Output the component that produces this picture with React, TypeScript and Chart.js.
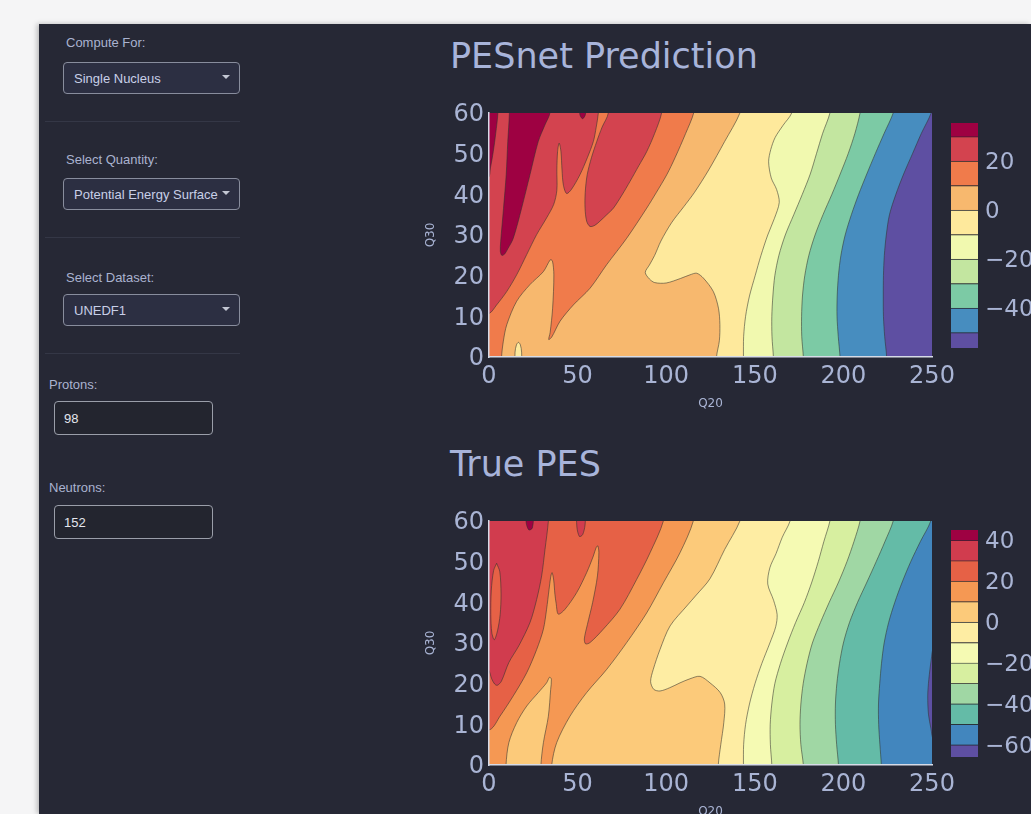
import React, { useEffect, useRef } from 'react';
import { Chart, registerables } from 'chart.js';

Chart.register(...registerables);

type Pt = [number, number];

const FONT = '"DejaVu Sans", Verdana, sans-serif';
const UI_FONT = '"Liberation Sans", Arial, sans-serif';
const TEXT = '#a9b4d4';
const LINE = 'rgba(50,50,45,0.55)';

// ---------- axes ----------
const q20Ticks = [0, 50, 100, 150, 200, 250];
const q30Ticks = [0, 10, 20, 30, 40, 50, 60];
const q20Range: Pt = [0, 250];
const q30Range: Pt = [0, 60];
const frameRegion: Pt[] = [[-12, -6], [262, -6], [262, 66], [-12, 66]];

// ---------- PESnet Prediction (contour regions z >= level, in Q20/Q30 units) ----------
const predZRange: Pt = [-56.3, 35.5];
const predLevels = [-50, -40, -30, -20, -10, 0, 10, 20, 30];
const predColorbarTicks = [-40, -20, 0, 20];
const predColors = ['#5e4fa2', '#478dbf', '#7ccaa5', '#c3e6a0', '#f1f9af', '#fee99c', '#f7b86e', '#f07b4b', '#d3434f', '#9e0142'];

const predAboveM50: Pt[] = [[-12, -6], [224.6, -6], [224.4, 0], [223.3, 5], [222.6, 10], [222.5, 15], [222.6, 20], [223.1, 25], [224.2, 30], [226, 35], [229.6, 40], [234, 45], [239, 50], [244, 55], [249.5, 60], [253, 66], [-12, 66]];
const predAboveM40: Pt[] = [[-12, -6], [198.6, -6], [198.1, 0], [197.1, 5], [196.4, 10], [196.5, 15], [197.2, 20], [198.6, 25], [201, 30], [204.5, 35], [208.6, 40], [213.2, 45], [218, 50], [223, 55], [228.1, 60], [231.5, 66], [-12, 66]];
const predAboveM30: Pt[] = [[-12, -6], [177.8, -6], [177.4, 0], [176.5, 5], [176.4, 10], [176.9, 15], [178.2, 20], [180.5, 25], [184, 30], [188.5, 35], [193.5, 40], [198.2, 45], [202.7, 50], [206.5, 55], [209.4, 60], [211.5, 66], [-12, 66]];
const predAboveM20: Pt[] = [[-12, -6], [160.8, -6], [160.5, 0], [159.7, 5], [159.6, 10], [160.2, 15], [161.3, 20], [163.6, 25], [167.2, 30], [172, 35], [176.8, 40], [181.3, 45], [184.8, 50], [188.3, 55], [192.4, 60], [194.5, 66], [-12, 66]];
const predAboveM10: Pt[] = [[-12, -6], [143.6, -6], [143.6, 0], [143.7, 5], [144.8, 10], [147, 15], [150.2, 20], [153.5, 25], [157.3, 30], [161, 34], [163.8, 38], [162.3, 41.2], [159.3, 44], [157.8, 48], [159, 51], [161.5, 54], [166, 57], [170.8, 60], [173.5, 66], [-12, 66]];
const predAbove0: Pt[] = [[-12, -6], [128.4, -6], [128.4, 0], [130, 4], [130.3, 8], [129.5, 12], [126.6, 16.1], [121, 19.4], [117.2, 20.6], [113.4, 20.2], [108, 19.3], [100, 18.2], [93.5, 18.3], [90.5, 19.2], [88.2, 20.8], [90.5, 22.6], [93.5, 25], [97, 28.5], [103, 33], [110, 37], [116, 40.5], [124, 46], [133, 53], [141.6, 60], [144.5, 66], [-12, 66]];
const predBelow0Blob: Pt[] = [[14.6, -4], [14.7, 1.2], [15.5, 3], [16.6, 3.6], [17.7, 3], [18.4, 1.2], [18.5, -4]];
const predAbove10: Pt[] = [[-12, -6], [7.1, -6], [7.1, 0], [8.1, 3.9], [10, 7.9], [15.6, 13.7], [23.1, 17.8], [30.7, 21], [34.6, 23.9], [35.8, 23.6], [36.6, 20.2], [35.9, 12], [34.5, 6], [33.7, 4.3], [35.4, 4.9], [40.1, 8.8], [47.6, 12.8], [57, 16.9], [66.4, 22.7], [77.7, 29.2], [89, 36.6], [94.5, 40.5], [100.3, 44.8], [105, 49], [111, 55], [115.5, 60], [117.5, 66], [-12, 66]];
const predAbove20Left: Pt[] = [[-12, 10.2], [0, 10.7], [4.3, 12.8], [10, 16.1], [15.6, 20.2], [21.3, 25.2], [26.9, 30.1], [32.5, 34.2], [36.5, 37.5], [38.3, 41], [38.3, 46], [38.7, 50.5], [39.6, 52.6], [40.6, 50.5], [41.2, 46], [42, 42.2], [43.8, 40.2], [46.5, 41.2], [51.3, 44.8], [55.5, 49], [58.9, 53], [60.5, 56.5], [61.7, 60], [62.5, 66], [-12, 66]];
const predAbove20Right: Pt[] = [[66.5, 66], [67.3, 60], [63.8, 56.5], [60.8, 53], [57.8, 49], [55.4, 44.8], [54.3, 40.5], [54.2, 36.6], [55.1, 33.4], [57, 32.1], [59.8, 32.4], [62.6, 33.4], [66.5, 35], [70.2, 36.6], [75, 39.8], [79.6, 43.2], [84.5, 47], [89, 50.5], [93.5, 55], [97.4, 60], [98.5, 66]];
const predAbove30Main: Pt[] = [[11.3, 66], [11.5, 60], [10.6, 53], [9.7, 44.8], [8.2, 36.6], [6.6, 28.4], [6.4, 26], [7.2, 25], [8.8, 25.3], [10.6, 26.6], [13.7, 29.2], [18.4, 36.6], [23.1, 44.8], [27.8, 53], [31.5, 57], [34.4, 60], [35.5, 66]];
const predAbove30Edge: Pt[] = [[-12, 66], [5, 66], [5, 60], [3.8, 55], [2.4, 50.5], [0.8, 46.5], [-0.5, 44], [-12, 42]];
const predAbove30Dot: Pt[] = [[51, 63], [51.3, 59.6], [52.8, 58.6], [54.4, 59.6], [54.8, 63]];

const predRegions = [
  { from: -56.3, path: frameRegion },
  { from: -50, path: predAboveM50 },
  { from: -40, path: predAboveM40 },
  { from: -30, path: predAboveM30 },
  { from: -20, path: predAboveM20 },
  { from: -10, path: predAboveM10 },
  { from: 0, path: predAbove0 },
  { from: -10, path: predBelow0Blob },
  { from: 10, path: predAbove10 },
  { from: 20, path: predAbove20Left },
  { from: 20, path: predAbove20Right },
  { from: 30, path: predAbove30Main },
  { from: 30, path: predAbove30Edge },
  { from: 30, path: predAbove30Dot },
];

// ---------- True PES ----------
const trueZRange: Pt = [-66, 45];
const trueLevels = [-60, -50, -40, -30, -20, -10, 0, 10, 20, 30, 40];
const trueColorbarTicks = [-60, -40, -20, 0, 20, 40];
const trueColors = ['#5e4fa2', '#4286be', '#64bba7', '#a0d7a4', '#d7efa0', '#f5fab3', '#feeda3', '#fcca7a', '#f59853', '#e66146', '#d13c4e', '#9e0142'];

const trueAboveM60: Pt[] = [[-12, -6], [255, -6], [255, 6], [251, 6], [249.4, 9], [248, 12.5], [247.6, 17], [248.2, 21], [249.6, 26], [251, 29], [255, 29], [255, 66], [-12, 66]];
const trueAboveM50: Pt[] = [[-12, -6], [221.6, -6], [221.4, 0], [220.6, 5], [219.9, 10], [219.8, 15], [220.5, 20], [221.5, 25], [223, 30], [225.5, 35], [229, 40], [233.2, 45], [238, 50], [243.5, 55], [249.3, 60], [252, 66], [-12, 66]];
const trueAboveM40: Pt[] = [[-12, -6], [197.4, -6], [197.2, 0], [196.2, 5], [195.5, 10], [195.5, 15], [196.3, 20], [197.8, 25], [200, 30], [203.4, 35], [208, 40], [213.3, 45], [218.5, 50], [223.5, 55], [228.1, 60], [230.5, 66], [-12, 66]];
const trueAboveM30: Pt[] = [[-12, -6], [177.8, -6], [177.4, 0], [176, 5], [175.5, 10], [176, 15], [177.3, 20], [179.5, 25], [182.5, 30], [187, 35], [192, 40], [197.3, 45], [202, 50], [206, 55], [209.4, 60], [211.5, 66], [-12, 66]];
const trueAboveM20: Pt[] = [[-12, -6], [159.8, -6], [159.6, 0], [158.8, 5], [158.7, 10], [159.6, 15], [161.3, 20], [164.5, 25], [168.5, 30], [173, 35], [178, 40], [182.2, 45], [185.8, 50], [189, 55], [192.4, 60], [194.5, 66], [-12, 66]];
const trueAboveM10: Pt[] = [[-12, -6], [143.6, -6], [143.6, 0], [143.7, 5], [144.8, 10], [147, 15], [150.1, 20], [154, 25], [158.5, 30], [161.8, 34], [162.6, 37], [160.6, 40.5], [157.3, 44.5], [158.5, 48.5], [162, 52], [165.5, 56], [169.9, 60], [172.5, 66], [-12, 66]];
const trueAbove0: Pt[] = [[-12, -6], [129.4, -6], [129.4, 0], [130.8, 5], [132.5, 10.4], [133, 15], [130.5, 17.8], [124.7, 20.2], [119.1, 21.8], [113.4, 21.2], [107.8, 20.2], [102, 19], [96.5, 18.2], [93, 18.6], [91.2, 20.5], [92.7, 23.5], [96.5, 28.4], [102.2, 34.2], [111.6, 39.1], [117, 41.8], [124.7, 45.8], [133, 53], [141.6, 60], [144.5, 66], [-12, 66]];
const trueAbove10: Pt[] = [[-12, -6], [9.6, -6], [9.6, 0], [11.2, 5.5], [15.6, 10.4], [21.3, 14.5], [27.8, 17.8], [32.5, 20.2], [34.2, 21.6], [35.2, 21.1], [34.8, 18.6], [33.5, 12], [30.7, 5.5], [29.3, 0], [29.3, -6], [35.4, -6], [35.4, 0], [38.2, 5.5], [45.7, 12], [55.1, 17.8], [66.4, 23.5], [77.7, 30.1], [89, 37.4], [98.4, 44.8], [107.8, 52.2], [115.3, 60], [116.5, 66], [-12, 66]];
const trueAbove20: Pt[] = [[-12, 8.2], [0.6, 8.7], [6.2, 12], [13.7, 17], [21.3, 22.7], [26.9, 28.4], [30.7, 33.4], [32.5, 38.3], [33.9, 43.2], [34.8, 46.2], [35.6, 47.3], [36.5, 45.5], [37.2, 42], [37.9, 39.7], [39.1, 37.1], [42.9, 38.3], [49.5, 42.4], [55.1, 47.3], [58.9, 51.4], [60.4, 53.4], [61.4, 53.9], [62, 52.2], [61.2, 46.5], [58.5, 40], [55.5, 34.5], [53.8, 31], [54.5, 29.8], [57, 30.1], [64.5, 33.4], [73.9, 38.3], [83.3, 45.6], [90.9, 52.2], [98.4, 60], [99.5, 66], [-12, 66]];
const trueAbove30: Pt[] = [[-12, 27], [-0.5, 23.5], [1.5, 21.2], [3.2, 19.9], [4.7, 19.6], [7, 20.6], [11.2, 25.2], [16.8, 29.3], [23.1, 35], [26.9, 40.7], [29.7, 46.5], [31.6, 53], [33.5, 60], [34, 66], [-12, 66]];
const trueBelow30Island: Pt[] = [[4.3, 49.6], [6.1, 47.5], [6.8, 42], [6.3, 37], [4.8, 33], [3, 30.8], [1.6, 32.5], [1, 37], [1.3, 43], [2.6, 47.8], [4.3, 49.6]];
const trueAbove30Dot: Pt[] = [[49.4, 63], [49.6, 58.5], [51, 56.2], [52.8, 56.6], [54.2, 59], [54.5, 63]];
const trueAbove40Dot: Pt[] = [[20.8, 63], [21, 59.5], [22.5, 57.8], [24.5, 58.3], [25.4, 63]];

const trueRegions = [
  { from: -66, path: frameRegion },
  { from: -60, path: trueAboveM60 },
  { from: -50, path: trueAboveM50 },
  { from: -40, path: trueAboveM40 },
  { from: -30, path: trueAboveM30 },
  { from: -20, path: trueAboveM20 },
  { from: -10, path: trueAboveM10 },
  { from: 0, path: trueAbove0 },
  { from: 10, path: trueAbove10 },
  { from: 20, path: trueAbove20 },
  { from: 30, path: trueAbove30 },
  { from: 20, path: trueBelow30Island },
  { from: 30, path: trueAbove30Dot },
  { from: 40, path: trueAbove40Dot },
];

const fmt = (v: number | string) => {
  const n = Number(v);
  return n < 0 ? '\u2212' + Math.abs(n) : String(n);
};

type PlotProps = {
  regions: { from: number; path: Pt[] }[];
  levels: number[];
  zRange: Pt;
  colors: string[];
};

function ContourCanvas({ regions, levels, zRange, colors, top }: PlotProps & { top: number }) {
  const ref = useRef<HTMLCanvasElement | null>(null);
  useEffect(() => {
    if (!ref.current) return;
    const bandIndex = (from: number) => (from === zRange[0] ? 0 : levels.indexOf(from) + 1);
    const n = regions.length;
    const chart = new Chart(ref.current, {
      type: 'line',
      data: {
        datasets: regions.map((r, i) => {
          const isFrame = r.path === frameRegion;
          return {
            data: r.path.map(([x, y]) => ({ x, y })),
            backgroundColor: colors[bandIndex(r.from)],
            borderColor: isFrame ? 'rgba(0,0,0,0)' : LINE,
            borderWidth: isFrame ? 0 : 1,
            fill: 'shape',
            pointRadius: 0,
            pointHoverRadius: 0,
            tension: isFrame ? 0 : 0.3,
            order: n - i,
            clip: 0,
          } as any;
        }),
      },
      options: {
        animation: false,
        responsive: false,
        devicePixelRatio: 1,
        events: [],
        layout: { padding: { top: 23, right: 99, bottom: 0, left: 0 } },
        elements: { line: { capBezierPoints: false } },
        plugins: { legend: { display: false }, tooltip: { enabled: false }, title: { display: false } },
        scales: {
          x: {
            type: 'linear',
            min: q20Range[0],
            max: q20Range[1],
            afterBuildTicks: (s: any) => {
              s.ticks = q20Ticks.map((v) => ({ value: v }));
            },
            afterFit: (s: any) => {
              s.height = 63;
            },
            grid: { display: false, drawTicks: false },
            border: { display: true, color: '#d6dbe7', width: 1.5, z: 1 },
            ticks: { color: TEXT, font: { family: FONT, size: 24 }, padding: 5, maxRotation: 0, autoSkip: false, callback: fmt },
            title: { display: true, text: 'Q20', color: TEXT, font: { family: FONT, size: 12 }, padding: { top: 0, bottom: 9 } },
          },
          y: {
            type: 'linear',
            min: q30Range[0],
            max: q30Range[1],
            afterBuildTicks: (s: any) => {
              s.ticks = q30Ticks.map((v) => ({ value: v }));
            },
            afterFit: (s: any) => {
              s.width = 89;
            },
            grid: { display: false, drawTicks: false },
            border: { display: true, color: '#d6dbe7', width: 1.5, z: 1 },
            ticks: { color: TEXT, font: { family: FONT, size: 24 }, padding: 5, labelOffset: 2, autoSkip: false, callback: fmt },
            title: { display: true, text: 'Q30', color: TEXT, font: { family: FONT, size: 12 }, padding: { top: 24, bottom: 0 } },
          },
        },
      } as any,
    });
    return () => chart.destroy();
  }, []);
  return (
    <canvas
      ref={ref}
      width={631}
      height={330}
      style={{ position: 'absolute', left: 400, top, width: 631, height: 330 }}
    />
  );
}

function ColorbarCanvas({ levels, zRange, colors, ticks, top, height }: { levels: number[]; zRange: Pt; colors: string[]; ticks: number[]; top: number; height: number }) {
  const ref = useRef<HTMLCanvasElement | null>(null);
  useEffect(() => {
    if (!ref.current) return;
    const edges = [zRange[0], ...levels, zRange[1]];
    const W = 110;
    const chart = new Chart(ref.current, {
      type: 'bar',
      data: {
        labels: ['z'],
        datasets: colors.map((c, i) => ({
          data: [[edges[i], edges[i + 1]]],
          backgroundColor: c,
          borderColor: 'rgba(40,40,40,0.35)',
          borderWidth: i === colors.length - 1 ? 0 : { top: 1, right: 0, bottom: 0, left: 0 },
          borderSkipped: false,
          grouped: false,
          barPercentage: 1,
          categoryPercentage: 1,
        })) as any,
      },
      options: {
        animation: false,
        responsive: false,
        devicePixelRatio: 1,
        events: [],
        layout: { padding: { top: 30, bottom: 30, left: 0, right: 0 } },
        plugins: { legend: { display: false }, tooltip: { enabled: false } },
        scales: {
          x: { display: false },
          y: {
            position: 'right',
            min: zRange[0],
            max: zRange[1],
            afterBuildTicks: (s: any) => {
              s.ticks = ticks.map((v) => ({ value: v }));
            },
            afterFit: (s: any) => {
              s.width = W - 27;
            },
            grid: { display: false, drawTicks: false },
            border: { display: false },
            ticks: { color: TEXT, font: { family: FONT, size: 23 }, padding: 7, labelOffset: 2, autoSkip: false, callback: fmt },
          },
        },
      } as any,
    });
    return () => chart.destroy();
  }, []);
  return (
    <canvas
      ref={ref}
      width={110}
      height={height}
      style={{ position: 'absolute', left: 951, top, width: 110, height }}
    />
  );
}

const labelStyle = (left: number, top: number): React.CSSProperties => ({
  position: 'absolute',
  left,
  top,
  font: `13px ${UI_FONT}`,
  lineHeight: '15px',
  color: '#aab3d0',
  whiteSpace: 'nowrap',
});

function Dropdown({ top, text }: { top: number; text: string }) {
  return (
    <div
      style={{
        position: 'absolute',
        left: 63,
        top,
        width: 177,
        height: 32,
        boxSizing: 'border-box',
        border: '1px solid #888d9d',
        borderRadius: 4,
        background: '#2c2f42',
        display: 'flex',
        alignItems: 'center',
        paddingLeft: 10,
        color: '#c8cfe8',
        font: `13px ${UI_FONT}`,
        lineHeight: '15px',
        whiteSpace: 'nowrap',
        overflow: 'hidden',
      }}
    >
      {text}
      <div
        style={{
          position: 'absolute',
          right: 9,
          top: 12,
          width: 0,
          height: 0,
          borderLeft: '4px solid transparent',
          borderRight: '4px solid transparent',
          borderTop: '4px solid #c3c7d3',
        }}
      />
    </div>
  );
}

function NumberBox({ top, text }: { top: number; text: string }) {
  return (
    <div
      style={{
        position: 'absolute',
        left: 54,
        top,
        width: 159,
        height: 34,
        boxSizing: 'border-box',
        border: '1px solid #9a9ea9',
        borderRadius: 4,
        background: '#23252f',
        display: 'flex',
        alignItems: 'center',
        paddingLeft: 9,
        color: '#e4e6ee',
        font: `13px ${UI_FONT}`,
        lineHeight: '15px',
      }}
    >
      {text}
    </div>
  );
}

const Separator = ({ top }: { top: number }) => (
  <div style={{ position: 'absolute', left: 45, top, width: 195, height: 1, background: '#343746' }} />
);

const titleStyle = (top: number): React.CSSProperties => ({
  position: 'absolute',
  left: 450,
  top,
  font: `35px ${FONT}`,
  lineHeight: '35px',
  color: '#a8b4da',
  whiteSpace: 'nowrap',
});

export default function App() {
  return (
    <div style={{ position: 'fixed', left: 0, top: 0, width: '100vw', height: '100vh', overflow: 'hidden', background: '#f5f5f6' }}>
      <div
        style={{
          position: 'absolute',
          left: 39,
          top: 24,
          right: 0,
          bottom: 0,
          background: '#262835',
          boxShadow: '-2px 0 5px rgba(0,0,0,0.25)',
        }}
      />
      <div style={labelStyle(66, 35)}>Compute For:</div>
      <Dropdown top={62} text="Single Nucleus" />
      <Separator top={121} />
      <div style={labelStyle(66, 152)}>Select Quantity:</div>
      <Dropdown top={178} text="Potential Energy Surface" />
      <Separator top={237} />
      <div style={labelStyle(66, 270)}>Select Dataset:</div>
      <Dropdown top={294} text="UNEDF1" />
      <Separator top={353} />
      <div style={labelStyle(49, 377)}>Protons:</div>
      <NumberBox top={401} text="98" />
      <div style={labelStyle(49, 480)}>Neutrons:</div>
      <NumberBox top={505} text="152" />

      <div style={titleStyle(39)}>PESnet Prediction</div>
      <ContourCanvas regions={predRegions} levels={predLevels} zRange={predZRange} colors={predColors} top={90} />
      <ColorbarCanvas levels={predLevels} zRange={predZRange} colors={predColors} ticks={predColorbarTicks} top={93} height={285} />

      <div style={titleStyle(447)}>True PES</div>
      <ContourCanvas regions={trueRegions} levels={trueLevels} zRange={trueZRange} colors={trueColors} top={498} />
      <ColorbarCanvas levels={trueLevels} zRange={trueZRange} colors={trueColors} ticks={trueColorbarTicks} top={500} height={287} />
    </div>
  );
}
